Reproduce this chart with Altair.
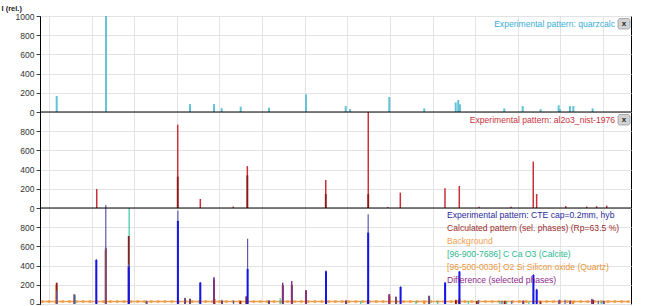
import altair as alt
import pandas as pd

FONT = "Liberation Sans"
XMIN, XMAX = 18.94, 88.29

# ---------- Panel 1 : Experimental pattern: quarzcalc (sticks) ----------
qc_x = [20.90, 26.69, 36.54, 39.36, 40.26, 42.49, 45.81, 50.15, 54.81, 55.32, 59.93, 64.03,
        67.72, 68.02, 68.22, 73.42, 75.58, 77.69, 79.80, 79.96, 81.13, 81.52, 83.79]
qc_y = [167, 1000, 83, 83, 40, 55, 45, 184, 62, 30, 156, 38,
        100, 125, 80, 38, 62, 30, 70, 30, 62, 62, 38]

# ---------- Panel 2 : Experimental pattern: al2o3_nist-1976 ----------
al_x = [25.60, 35.10, 37.75, 41.62, 43.27, 52.47, 57.46, 59.74, 61.22, 66.46, 68.14,
        70.45, 74.21, 76.82, 77.22, 80.63, 83.09, 84.26, 85.44]
al_y = [198, 868, 94, 15, 437, 292, 1000, 10, 160, 205, 229,
        12, 12, 483, 146, 20, 15, 18, 25]
al_core_x = [35.10, 43.27, 52.47, 57.46]
al_core_y = [326, 340, 145, 145]

# ---------- Panel 3 : refinement ----------
exp_x = [20.90, 22.97, 25.55, 26.66, 29.35, 31.45, 35.12, 35.96, 36.54, 37.75, 39.35, 40.29,
         41.65, 43.30, 45.81, 47.42, 48.48, 50.15, 52.50, 54.85, 57.45, 59.93, 60.70, 61.25,
         64.60, 66.48, 68.16, 70.40, 73.15, 74.30, 75.65, 76.84, 77.22, 79.90, 80.55, 81.15,
         83.70, 84.45, 85.05]
exp_y = [140, 100, 470, 1030, 420, 35, 975, 65, 50, 230, 280, 45,
         35, 680, 40, 150, 160, 110, 350, 40, 935, 100, 75, 185,
         85, 230, 345, 40, 35, 30, 35, 310, 160, 45, 45, 35,
         55, 35, 35]

core_x = [25.55, 29.35, 35.12, 37.75, 43.30, 52.50, 57.45, 61.25, 66.48, 68.16, 76.84, 77.22]
core_y = [458, 388, 865, 222, 365, 340, 743, 177, 222, 337, 302, 150]

calc_x = [20.90, 22.97, 26.66, 29.35, 31.45, 35.96, 36.54, 39.35, 40.29, 42.45, 43.15, 45.81,
          47.42, 48.48, 50.15, 54.85, 57.40, 59.93, 60.70, 64.60, 67.74, 68.14, 70.20, 73.47,
          75.65, 77.67, 79.88, 81.17, 83.84, 85.10]
calc_y = [222, 100, 586, 708, 25, 60, 55, 250, 35, 30, 80, 35,
          190, 200, 143, 35, 40, 100, 75, 85, 40, 45, 30, 30,
          35, 25, 40, 35, 45, 30]

calcite_x = [23.06, 29.40, 31.42, 35.97, 39.40, 43.15, 47.12, 47.50, 48.51, 56.57, 57.40, 60.67,
             63.06, 64.67, 65.60, 69.20, 70.20, 72.90, 73.70, 76.30, 81.50, 83.80, 84.80]
calcite_y = [90, 1000, 30, 55, 180, 70, 60, 200, 200, 30, 50, 60,
             30, 70, 30, 30, 30, 30, 25, 25, 25, 35, 25]

quartz_x = [20.86, 26.64, 36.54, 39.46, 40.29, 42.45, 45.79, 50.14, 54.87, 59.96, 64.03, 67.74,
            68.14, 73.47, 75.65, 79.88, 81.48]
quartz_y = [200, 560, 50, 50, 30, 35, 30, 100, 35, 80, 30, 45,
            55, 25, 30, 30, 30]

diff_x = [39.35, 47.42, 48.48, 50.15, 59.93, 83.70]
diff_y = [274, 222, 240, 140, 100, 50]

bg_x = [19.2, 20.0, 20.8, 21.6, 22.4, 23.2, 24.0, 24.8, 25.6, 26.4, 27.2, 28.0, 28.8, 29.6,
        30.4, 31.2, 32.0, 32.8, 33.6, 34.4, 35.2, 36.0, 36.8, 37.6, 38.4, 39.2, 40.0, 40.8,
        41.6, 42.4, 43.2, 44.0, 44.8, 45.6, 46.4, 47.2, 48.0, 48.8, 49.6, 50.4, 51.2, 52.0,
        52.8, 53.6, 54.4, 55.2, 56.0, 56.8, 57.6, 58.4, 59.2, 60.0, 60.8, 61.6, 62.4, 63.2,
        64.0, 64.8, 65.6, 66.4, 67.2, 68.0, 68.8, 69.6, 70.4, 71.2, 72.0, 72.8, 73.6, 74.4,
        75.2, 76.0, 76.8, 77.6, 78.4, 79.2, 80.0, 80.8, 81.6, 82.4, 83.2, 84.0, 84.8, 85.6,
        86.4, 87.2, 88.0]
bg_y = [25] * len(bg_x)

legend3_labels = ["Experimental pattern: CTE cap=0.2mm, hyb",
                  "Calculated pattern (sel. phases) (Rp=63.5 %)",
                  "Background",
                  "[96-900-7686] C Ca O3  (Calcite)",
                  "[96-500-0036] O2 Si Silicon oxide (Quartz)",
                  "Difference (selected phases)"]
legend3_colors = ["#2b2b9c", "#9b2d2d", "#f0a050", "#2cb890", "#e8963c", "#8b2a8b"]

Y_VALUES = [0, 200, 400, 600, 800, 1000, 1200, 1400, 1600, 1800, 2000,
            2200, 2400, 2600, 2800, 3000]


def xenc():
    return alt.X("x:Q", scale=alt.Scale(domain=[XMIN, XMAX], nice=False, zero=False),
                 axis=alt.Axis(values=list(range(20, 90, 5)), labels=False, ticks=False,
                               domain=False, title=None, grid=True,
                               gridColor="#e3e3e3", gridWidth=1))


def yenc(field):
    return alt.Y(field, scale=alt.Scale(domain=[0, 3000], nice=False, zero=False),
                 axis=alt.Axis(values=Y_VALUES,
                               labelExpr="datum.value == 3000 ? '1000' : '' + (datum.value % 1000)",
                               labelBaseline=alt.condition("datum.value == 0",
                                                           alt.value("alphabetic"),
                                                           alt.value("middle")),
                               labelFont=FONT, labelFontSize=8.5, labelColor="#333333",
                               labelPadding=2, labelOverlap=False,
                               tickSize=4, tickColor="#444444",
                               domainColor="black", grid=True,
                               gridColor="#e3e3e3", gridWidth=1,
                               title="I (rel.)", titleAngle=0, titleX=-39, titleY=-6,
                               titleAlign="left", titleBaseline="alphabetic",
                               titleFont=FONT, titleFontSize=7.5, titleFontWeight="bold",
                               titleColor="#222222"))


def sticks(xs, vs, offset, color, width, opacity=1.0):
    df = pd.DataFrame({"x": xs, "v": vs})
    return (alt.Chart(df)
            .transform_calculate(y=f"datum.v + {offset}", y0=f"{offset}")
            .mark_rule(color=color, strokeWidth=width, opacity=opacity, clip=True)
            .encode(x=xenc(), y=yenc("y:Q"), y2="y0:Q"))


layers = []
# panel 1
layers.append(sticks(qc_x, qc_y, 2000, "#62c3d6", 2))
# panel 2
layers.append(sticks(al_x, al_y, 1000, "#c9303a", 1.5))
layers.append(sticks(al_core_x, al_core_y, 1000, "#8a1a1a", 1.8))
# panel 3
bg_df = pd.DataFrame({"x": bg_x, "y": bg_y})
layers.append(alt.Chart(bg_df).mark_line(color="#f0a050", strokeWidth=1.5, clip=True)
              .encode(x=xenc(), y=yenc("y:Q")))
layers.append(alt.Chart(bg_df).mark_square(color="#f09a40", size=6, opacity=1, clip=True)
              .encode(x=xenc(), y=yenc("y:Q")))
layers.append(sticks(calcite_x, calcite_y, 0, "#3cc8a0", 1.2))
layers.append(sticks(quartz_x, quartz_y, 0, "#f0902d", 2))
layers.append(sticks(calc_x, calc_y, 0, "#8e1c1c", 1.8))
layers.append(sticks(exp_x, exp_y, 0, "#5a5ab4", 1.2))
layers.append(sticks(core_x, core_y, 0, "#1414e6", 2))
layers.append(sticks(diff_x, diff_y, 0, "#8b2a8b", 1.4))

# panel separators
sep = alt.Chart(pd.DataFrame({"y": [1000, 2000]})).mark_rule(color="black", strokeWidth=1).encode(
    y=yenc("y:Q"))
layers.append(sep)

# legends of panels 1 and 2 (right aligned)
top_leg = pd.DataFrame({
    "t": ["Experimental pattern: quarzcalc", "Experimental pattern: al2o3_nist-1976"],
    "px": [575, 575], "py": [7.5, 103.5], "c": ["#3aaed6", "#c8323c"]})
layers.append(alt.Chart(top_leg).mark_text(align="right", baseline="middle", font=FONT,
                                           fontSize=8.6)
              .encode(x=alt.X("px:Q", scale=None), y=alt.Y("py:Q", scale=None),
                      text="t:N", color=alt.Color("c:N", scale=None)))

# close buttons
btn = pd.DataFrame({"x1": [578, 578], "x2": [590, 590], "y1": [2.5, 98.5], "y2": [13, 109],
                    "cx": [584, 584], "cy": [7.5, 103.5], "t": ["x", "x"]})
layers.append(alt.Chart(btn).mark_rect(fill="#d2d2d2", stroke="#9a9a9a", strokeWidth=0.8,
                                       cornerRadius=2)
              .encode(x=alt.X("x1:Q", scale=None), x2="x2:Q",
                      y=alt.Y("y1:Q", scale=None), y2="y2:Q"))
layers.append(alt.Chart(btn).mark_text(font=FONT, fontSize=8, fontWeight="bold", color="#222222",
                                       align="center", baseline="middle")
              .encode(x=alt.X("cx:Q", scale=None), y=alt.Y("cy:Q", scale=None), text="t:N"))

# legend of panel 3
leg3 = pd.DataFrame({"t": legend3_labels, "c": legend3_colors,
                     "px": [407] * 6, "py": [199, 212, 225, 237.7, 250.7, 263.7]})
layers.append(alt.Chart(leg3).mark_text(align="left", baseline="middle", font=FONT, fontSize=8.6)
              .encode(x=alt.X("px:Q", scale=None), y=alt.Y("py:Q", scale=None),
                      text="t:N", color=alt.Color("c:N", scale=None)))

chart = (alt.layer(*layers)
         .properties(width=591, height=288,
                     padding={"left": 40, "top": 16, "right": 19, "bottom": 2},
                     autosize=alt.AutoSizeParams(type="none"),
                     background="white")
         .configure_view(stroke="black", strokeWidth=1))

chart.save("out.html", embed_options={"renderer": "svg", "actions": False})
